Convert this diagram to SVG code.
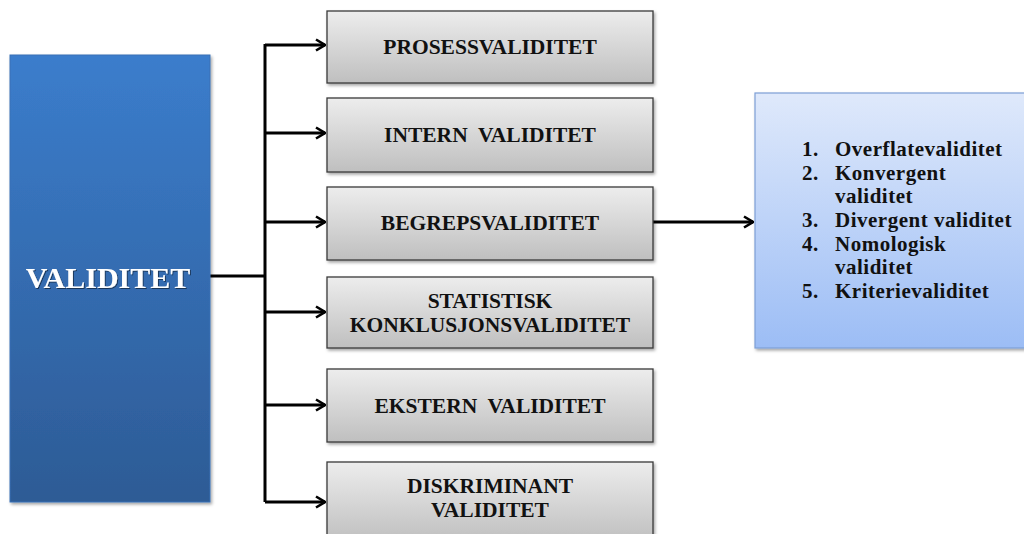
<svg xmlns="http://www.w3.org/2000/svg" width="1024" height="534" viewBox="0 0 1024 534">
  <defs>
    <linearGradient id="gBlue" x1="0" y1="0" x2="0" y2="1">
      <stop offset="0" stop-color="#3b7dcc"/>
      <stop offset="1" stop-color="#2d5b95"/>
    </linearGradient>
    <linearGradient id="gGray" x1="0" y1="0" x2="0" y2="1">
      <stop offset="0" stop-color="#ededed"/>
      <stop offset="1" stop-color="#bfbfbf"/>
    </linearGradient>
    <linearGradient id="gList" x1="0" y1="0" x2="0" y2="1">
      <stop offset="0" stop-color="#dfe9fb"/>
      <stop offset="1" stop-color="#9cbdf5"/>
    </linearGradient>
    <filter id="shadow" x="-10%" y="-10%" width="120%" height="120%">
      <feDropShadow dx="1.5" dy="2" stdDeviation="1.5" flood-color="#000" flood-opacity="0.35"/>
    </filter>
    <filter id="txtShadow" x="-5%" y="-20%" width="110%" height="140%">
      <feDropShadow dx="1" dy="1" stdDeviation="0.6" flood-color="#000" flood-opacity="0.5"/>
    </filter>
    <marker id="arrow" viewBox="0 0 12 14" refX="11" refY="7" markerWidth="12" markerHeight="14" markerUnits="userSpaceOnUse" orient="auto">
      <path d="M2,1.5 L11,7 L2,12.5" fill="none" stroke="#000" stroke-width="2.6" stroke-linejoin="miter"/>
    </marker>
    <style>
      .box { fill: url(#gGray); stroke: #3a3a3a; stroke-width: 1.3; filter: url(#shadow); }
      .lbl { font-family: "Liberation Serif", "Times New Roman", serif; font-weight: bold; font-size: 21.5px; fill: #111; text-anchor: middle; white-space: pre; }
      .item { font-family: "Liberation Serif", "Times New Roman", serif; font-weight: bold; font-size: 21px; letter-spacing: 0.5px; fill: #111; }
      .conn { fill: none; stroke: #000; stroke-width: 3; }
    </style>
  </defs>

  <rect width="1024" height="534" fill="#ffffff"/>

  <!-- connectors: trunk from the main box with one branch per category -->
  <g id="connectors">
    <path class="conn" d="M210,276 H265"/>
    <path class="conn" d="M265,44 V502"/>
    <path class="conn" d="M265,45 H325" marker-end="url(#arrow)"/>
    <path class="conn" d="M265,133 H325" marker-end="url(#arrow)"/>
    <path class="conn" d="M265,222 H325" marker-end="url(#arrow)"/>
    <path class="conn" d="M265,312 H325" marker-end="url(#arrow)"/>
    <path class="conn" d="M265,405 H325" marker-end="url(#arrow)"/>
    <path class="conn" d="M265,502 H325" marker-end="url(#arrow)"/>
    <path class="conn" d="M653,222 H753" marker-end="url(#arrow)"/>
  </g>

  <!-- main concept -->
  <g id="validitet">
    <rect x="10" y="55" width="200" height="447" fill="url(#gBlue)" stroke="#3a70b5" stroke-width="1" filter="url(#shadow)"/>
    <text x="108" y="288" font-family="'Liberation Serif', 'Times New Roman', serif" font-weight="bold" font-size="30" fill="#ffffff" text-anchor="middle" filter="url(#txtShadow)">VALIDITET</text>
  </g>

  <g id="prosessvaliditet">
    <rect class="box" x="327" y="11" width="326" height="72"/>
    <text class="lbl" x="490" y="54">PROSESSVALIDITET</text>
  </g>

  <g id="intern">
    <rect class="box" x="327" y="98" width="326" height="74"/>
    <text class="lbl" x="490" y="142">INTERN  VALIDITET</text>
  </g>

  <g id="begrepsvaliditet">
    <rect class="box" x="327" y="187" width="326" height="73"/>
    <text class="lbl" x="490" y="230">BEGREPSVALIDITET</text>
  </g>

  <g id="statistisk">
    <rect class="box" x="327" y="277" width="326" height="71"/>
    <text class="lbl" x="490" y="308">STATISTISK</text>
    <text class="lbl" x="490" y="332">KONKLUSJONSVALIDITET</text>
  </g>

  <g id="ekstern">
    <rect class="box" x="327" y="369" width="326" height="73"/>
    <text class="lbl" x="490" y="413">EKSTERN  VALIDITET</text>
  </g>

  <g id="diskriminant">
    <rect class="box" x="327" y="462" width="326" height="80"/>
    <text class="lbl" x="490" y="493">DISKRIMINANT</text>
    <text class="lbl" x="490" y="517">VALIDITET</text>
  </g>

  <!-- sub-types of construct validity -->
  <g id="begrep-typer">
    <rect x="755" y="93" width="280" height="255" fill="url(#gList)" stroke="#7d9fd6" stroke-width="1.2" filter="url(#shadow)"/>
    <g class="item">
      <text x="802" y="156">1.</text><text x="835" y="156">Overflatevaliditet</text>
      <text x="802" y="180">2.</text><text x="835" y="180">Konvergent</text>
      <text x="835" y="203">validitet</text>
      <text x="802" y="227">3.</text><text x="835" y="227">Divergent validitet</text>
      <text x="802" y="251">4.</text><text x="835" y="251">Nomologisk</text>
      <text x="835" y="274">validitet</text>
      <text x="802" y="298">5.</text><text x="835" y="298">Kriterievaliditet</text>
    </g>
  </g>
</svg>
